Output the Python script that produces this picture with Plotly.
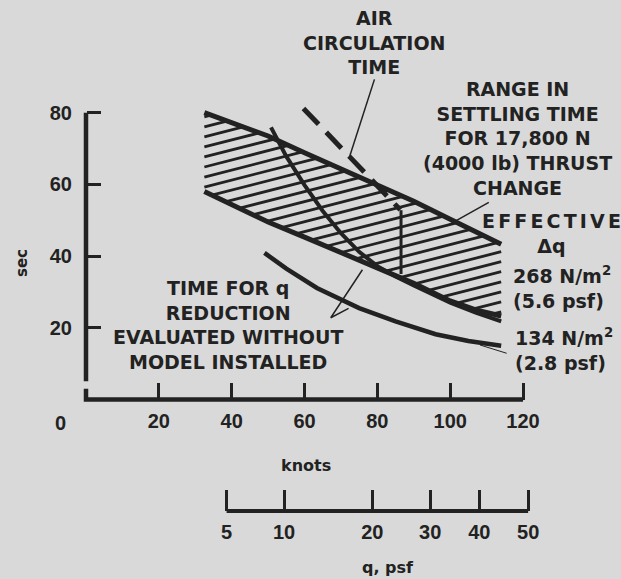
import numpy as np
import plotly.graph_objects as go

# hatched band: range in settling time for 17,800 N thrust change
band_knots = [32.5, 40, 50, 60, 70, 80, 90, 100, 107, 114]
band_upper = [80.0, 77.2, 73.5, 68.8, 64.3, 60.0, 55.3, 50.3, 46.8, 43.3]
band_lower = [58.0, 54.2, 49.5, 45.3, 41.0, 37.0, 32.4, 27.5, 25.0, 23.3]

# time for q reduction, effective dq 268 N/m2 (5.6 psf)
q268_knots = [50.8, 55, 60, 65, 70, 75, 80, 85, 90, 100, 107, 114]
q268_sec = [75.9, 67.8, 59.8, 52.6, 46.4, 41.2, 37.2, 34.3, 31.8, 27.0, 24.2, 21.8]

# time for q reduction, effective dq 134 N/m2 (2.8 psf)
q134_knots = [49.0, 55, 63.4, 70, 75, 85, 96, 105, 114]
q134_sec = [40.9, 36.5, 31.1, 27.8, 25.5, 21.8, 18.2, 16.3, 15.0]

# air circulation time (dashed) and the vertical mark under it
air_knots = [59.7, 86.3]
air_sec = [81.2, 52.9]
mark_knots = [86.5, 86.5]
mark_sec = [52.8, 35.0]

knot_ticks = [20, 40, 60, 80, 100, 120]
sec_ticks = [20, 40, 60, 80]
q_labels = ["5", "10", "20", "30", "40", "50"]
q_label_knots = [38.6, 54.4, 78.6, 94.5, 108.0, 121.4]

INK = "#222222"
BG = "#d9d9d9"
W, H = 621, 579
TXT = dict(family="DejaVu Sans", size=19, color=INK, weight="bold")
NUM = dict(family="Liberation Sans", size=20, color=INK, weight="bold")

# pixel scale of the original drawing
x0, x1 = -86 / 3.642, (W - 86) / 3.642
y0, y1 = (399.5 - H) / 3.585, 399.5 / 3.585
q_axis_sec = -31.1

fig = go.Figure()

def line(x, y, width, dash=None, xaxis="x"):
    fig.add_trace(go.Scatter(x=x, y=y, mode="lines", xaxis=xaxis,
                             line=dict(color=INK, width=width, dash=dash),
                             hoverinfo="skip", showlegend=False))

# hatch lines inside band
ux = np.linspace(band_knots[0], band_knots[-1], 1200)
up = np.interp(ux, band_knots, band_upper)
lo = np.interp(ux, band_knots, band_lower)
hx, hy = [], []
for b in np.arange(-8.0, 72.0, 2.8):
    yy = b + 0.26 * ux
    idx = np.where((yy >= lo) & (yy <= up))[0]
    if len(idx) > 1:
        hx += [ux[idx[0]], ux[idx[-1]], None]
        hy += [yy[idx[0]], yy[idx[-1]], None]
line(hx, hy, 2.8)

line(band_knots, band_upper, 5)
line(band_knots, band_lower, 5)
line(q268_knots, q268_sec, 4)
line(q134_knots, q134_sec, 4.5)
line(air_knots, air_sec, 5, dash="22px,11px")
line(mark_knots, mark_sec, 3)

# axis lines
line([0, 0, 120], [3.0, 0, 0], 4.5)
line([0, 0], [5.1, 80], 4.5)
line([q_label_knots[0], q_label_knots[-1]], [q_axis_sec, q_axis_sec], 4, xaxis="x2")

# leader lines
line([79.2, 72.3], [89.3, 67.5], 1.5)
line([110.6, 99.2], [55.0, 48.5], 1.5)
line([75.9, 67.2, 72.1], [36.2, 22.8, 25.4], 1.5)
line([108.2, 115.5], [15.2, 12.9], 1)

def note(text, px, py, xanchor="center", align="center", font=TXT, angle=0):
    fig.add_annotation(text=text, x=px / W, y=1 - py / H, xref="paper", yref="paper",
                       xanchor=xanchor, yanchor="middle", align=align, showarrow=False,
                       font=font, textangle=angle)

note("AIR<br>CIRCULATION<br>TIME", 374, 42.5)
note("RANGE IN<br>SETTLING TIME<br>FOR 17,800 N<br>(4000 lb) THRUST<br>CHANGE", 517, 138.5)
note("E\u2006F\u2006F\u2006E\u2006C\u2006T\u2006I\u2006V\u2006E<br>\u0394q", 551, 233)
note("268 N/m<sup>2</sup><br>(5.6 psf)", 511, 287.5, xanchor="left", align="left")
note("134 N/m<sup>2</sup><br>(2.8 psf)", 513, 349, xanchor="left", align="left")
note("TIME FOR q<br>REDUCTION<br>EVALUATED WITHOUT<br>MODEL INSTALLED", 228, 325)
note("0", 60, 423, font=NUM)
note("knots", 306, 465, font=dict(TXT, size=16))
note("q, psf", 388, 567, font=dict(TXT, size=16))
note("sec", 22, 263, font=dict(TXT, size=15), angle=-90)

axis_common = dict(showline=False, showgrid=False, zeroline=False, fixedrange=True,
                   ticks="inside", tickcolor=INK, tickfont=NUM)
fig.update_layout(
    width=W, height=H,
    margin=dict(l=0, r=0, t=0, b=0),
    paper_bgcolor=BG, plot_bgcolor=BG,
    hovermode=False,
    xaxis=dict(axis_common, range=[x0, x1], domain=[0, 1], anchor="free",
               position=(0 - y0) / (y1 - y0), tickvals=knot_ticks,
               ticklen=17, tickwidth=3, ticklabelstandoff=7),
    xaxis2=dict(axis_common, range=[x0, x1], domain=[0, 1], overlaying="x", anchor="free",
                side="bottom", position=(q_axis_sec - y0) / (y1 - y0),
                tickvals=q_label_knots, ticktext=q_labels,
                ticklen=21, tickwidth=2.5, ticklabelstandoff=7),
    yaxis=dict(axis_common, range=[y0, y1], domain=[0, 1], anchor="free",
               position=(0 - x0) / (x1 - x0), tickvals=sec_ticks,
               ticklen=14, tickwidth=3, ticklabelstandoff=14),
)

fig.write_html("out.html", post_script="document.body.style.margin='0';",
               config={"displayModeBar": False})
